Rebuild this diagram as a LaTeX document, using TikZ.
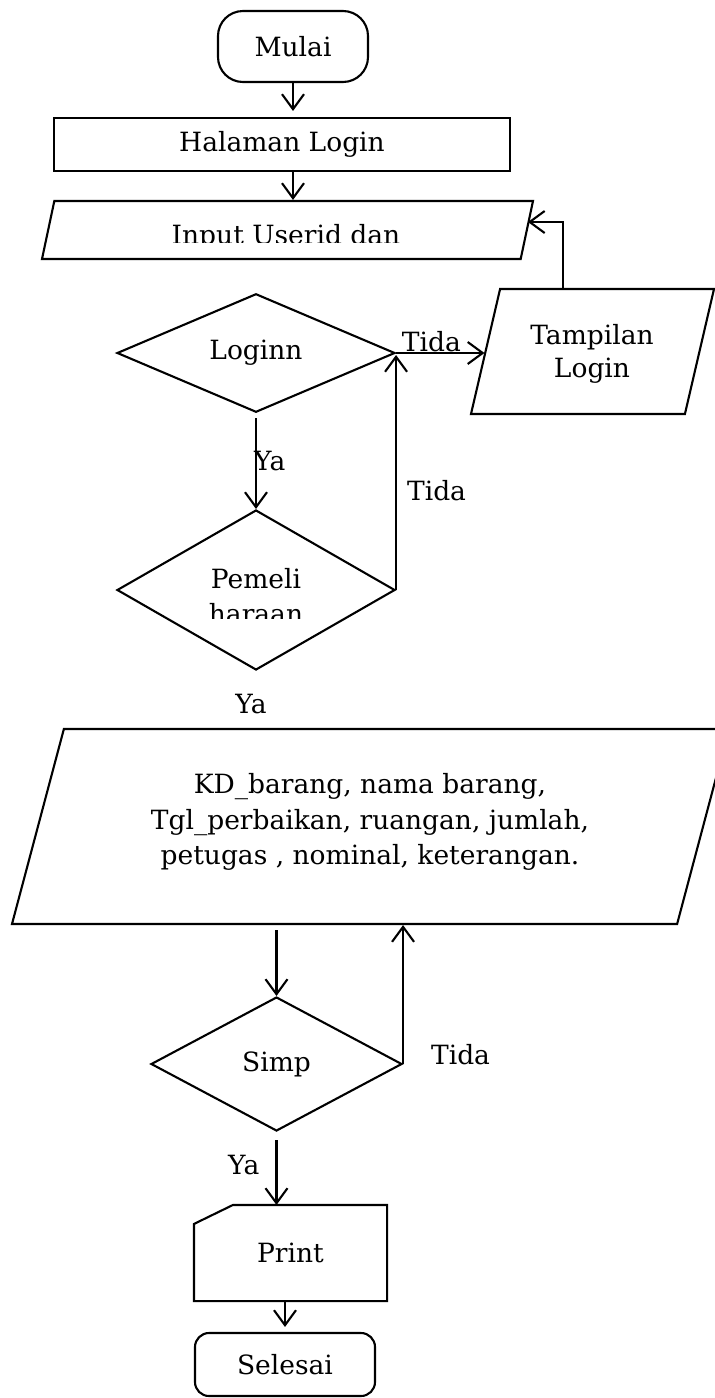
\documentclass[tikz,border=0pt]{standalone}
\usepackage{fontspec}
\setmainfont{DejaVu Serif}
\usetikzlibrary{arrows.meta, shapes.geometric}

\begin{document}
\begin{tikzpicture}[x=1pt, y=-1pt, line width=2.1pt,
  every node/.style={font=\fontsize{26.5}{33}\selectfont},
  arr/.style={-{Straight Barb[length=15pt,width=22pt]}},
  terminal/.style={draw, rectangle, rounded corners=#1, inner sep=0pt},
  box/.style={draw, rectangle, inner sep=0pt},
  io/.style 2 args={draw, trapezium, trapezium left angle=#1, trapezium right angle=180-#1,
    trapezium stretches body, inner sep=0pt, text height=#2, text depth=#2},
  decision/.style={draw, diamond, inner sep=0pt},
  lbl/.style={inner sep=0pt}]

\useasboundingbox (0,0) rectangle (715,1398);

% SHAPES
\node[terminal=25pt, minimum width=150pt, minimum height=71pt] (mulai) at (293,46.5) {Mulai};
\node[box, minimum width=456pt, minimum height=53pt] (halaman) at (282,144.5) {Halaman Login};
\node[io={78}{29pt}, minimum width=491pt] (input) at (287.5,230) {};
\node[io={76.9}{62.5pt}, minimum width=243pt] (tampil) at (592.5,351.5) {};
\node[decision, minimum width=278pt, minimum height=112pt] (login) at (256,353) {Loginn};
\node[decision, minimum width=278pt, minimum height=160pt] (pemeli) at (256,590) {};
\node[io={75.1}{97.5pt}, minimum width=717pt] (data) at (370.5,826.5) {};
\node[decision, minimum width=251pt, minimum height=134pt] (simp) at (276.5,1064) {Simp};
\node[rectangle, inner sep=0pt, minimum width=191pt, minimum height=94pt] (print) at (290.5,1253) {Print};
\draw ([xshift=39pt]print.north west) -- (print.north east) -- (print.south east)
      -- (print.south west) -- ([yshift=-19pt]print.north west) -- cycle;
\node[terminal=14pt, minimum width=180pt, minimum height=63pt] (selesai) at (285,1364.5) {Selesai};

% TEXTS IN THE SLANTED SHAPES
\node[align=center] (tampilTxt) at (592,354) {Tampilan\\Login};
\node[align=center, font=\fontsize{26.5}{35.5}\selectfont] (dataTxt) at (370,822)
  {KD\_barang, nama barang,\\Tgl\_perbaikan, ruangan, jumlah,\\petugas , nominal, keterangan.};

% TEXTS CUT BY THEIR SHAPES
\begin{scope}
  \clip (0,190) rectangle (715,242.5);
  \node[anchor=base] (inputTxt) at (286,244) {Input Userid dan};
\end{scope}
\begin{scope}
  \clip (100,540) rectangle (400,618);
  \node[align=center, font=\fontsize{26.5}{35}\selectfont] (pemeliTxt) at (256,596) {Pemeli\\haraan};
\end{scope}

\node (yaTwo) at (251,704) {Ya};

% ARROWS
\draw[arr, shorten >=6pt] (mulai.south) -- (mulai.south |- halaman.north);
\draw[arr] (mulai.south |- halaman.south) -- (mulai.south |- input.north);
\coordinate (back) at (563,222);
\draw[arr] (tampil.north -| back) -- (back) -- (input.east |- back);
\draw[arr] (login.east) -- (tampil.west |- login.east) node[lbl, pos=0.4, above] {Tida};
\draw[arr, shorten <=5pt] (login.south) -- (pemeli.north) node[lbl, midway, right, xshift=-3pt] {Ya};
\draw[arr, shorten >=2pt] (pemeli.east) -- (login.east) node[lbl, pos=0.42, right, xshift=10pt] {Tida};

\draw[arr, shorten <=5pt] (simp.north |- data.south) -- (simp.north);
\draw[arr] (simp.east) -- (simp.east |- data.south) node[lbl, pos=0.07, right, xshift=27pt] {Tida};
\draw[arr, shorten <=8pt] (simp.south) -- (simp.south |- print.north) node[lbl, pos=0.45, left, xshift=-16pt] {Ya};
\draw[arr, shorten >=5pt] (selesai.north |- print.south) -- (selesai.north);

\end{tikzpicture}
\end{document}
